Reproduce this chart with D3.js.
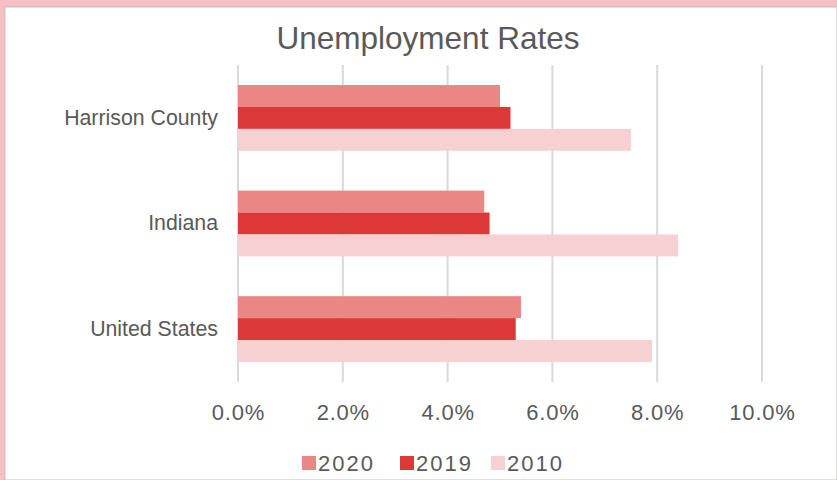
<!DOCTYPE html>
<html>
<head>
<meta charset="utf-8">
<script src="https://cdn.jsdelivr.net/npm/d3@7"></script>
<style>
  body { margin: 0; background: #fff; }
  #chart { width: 837px; height: 480px; }
</style>
</head>
<body>
<div id="chart"></div>
<script>
//Data
const categories = ["Harrison County", "Indiana", "United States"];
const seriesNames = ["2020", "2019", "2010"];
const values2020 = [5.0, 4.7, 5.4];
const values2019 = [5.2, 4.8, 5.3];
const values2010 = [7.5, 8.4, 7.9];
const tickValues = [0, 2, 4, 6, 8, 10];
const colors = ["#e98785", "#dd3838", "#f7d0d1"];

//Dim
const width = 837;
const height = 480;
const plotLeft = 238, plotRight = 762, plotTop = 65, plotBottom = 382;
const font = "'Liberation Sans', Arial, sans-serif";

const svg = d3.select("#chart")
    .append("svg")
    .attr("width", width)
    .attr("height", height);

//frame
svg.append("rect").attr("width", width).attr("height", height).attr("fill", "#f5bfc3");
svg.append("rect").attr("x", 5).attr("y", 7).attr("width", width - 5).attr("height", height - 7)
    .attr("fill", "#fff").attr("stroke", "#c9c0c0").attr("stroke-width", 1);

//title
svg.append("text")
    .text("Unemployment Rates")
    .attr("x", 428).attr("y", 49)
    .attr("text-anchor", "middle")
    .attr("font-family", font)
    .attr("font-size", 31.5)
    .attr("fill", "#595959");

//Scaling
const xScale = d3.scaleLinear().domain([0, 10]).range([plotLeft, plotRight]);
const yScale = d3.scaleBand().domain(categories).range([plotTop, plotBottom])
    .paddingInner(0.377).paddingOuter(0.19);
const inner = d3.scaleBand().domain(seriesNames).range([0, yScale.bandwidth()]);

//gridlines
svg.selectAll(".grid")
    .data(tickValues)
    .enter()
    .append("line")
    .attr("x1", d => xScale(d)).attr("x2", d => xScale(d))
    .attr("y1", plotTop).attr("y2", plotBottom)
    .attr("stroke", "#d9d9d9")
    .attr("stroke-width", 2);

//x axis
const xAxis = d3.axisBottom(xScale)
    .tickValues(tickValues)
    .tickFormat(d => d3.format(".1f")(d) + "%")
    .tickSize(0)
    .tickPadding(22);
const gx = svg.append("g").attr("transform", `translate(0,${plotBottom})`).call(xAxis);
gx.select(".domain").remove();
gx.selectAll("text").attr("font-family", font).attr("font-size", 22)
    .attr("letter-spacing", 0.8).attr("fill", "#595959");

//y axis
const yAxis = d3.axisLeft(yScale).tickSize(0).tickPadding(20);
const gy = svg.append("g").attr("transform", `translate(${plotLeft},0)`).call(yAxis);
gy.select(".domain").remove();
gy.selectAll("text").attr("font-family", font).attr("font-size", 21.3).attr("fill", "#595959");

//bars
const seriesData = [values2020, values2019, values2010];
seriesNames.forEach((name, i) => {
    svg.selectAll(".bar" + name)
        .data(categories.map((c, j) => ({ cat: c, v: seriesData[i][j] })))
        .enter()
        .append("rect")
        .attr("x", xScale(0))
        .attr("y", d => yScale(d.cat) + inner(name))
        .attr("width", d => xScale(d.v) - xScale(0))
        .attr("height", inner.bandwidth())
        .attr("fill", colors[i]);
});

//legend
const legendX = [302, 400, 491];
const legend = svg.selectAll(".legend")
    .data(seriesNames)
    .enter()
    .append("g")
    .attr("transform", (d, i) => `translate(${legendX[i]},463)`);
legend.append("rect")
    .attr("x", 0).attr("y", -7)
    .attr("width", 14).attr("height", 14)
    .attr("fill", (d, i) => colors[i]);
legend.append("text")
    .text(d => d)
    .attr("x", 16).attr("y", 8)
    .attr("font-family", font)
    .attr("font-size", 22)
    .attr("letter-spacing", 2)
    .attr("fill", "#595959");
</script>
</body>
</html>
